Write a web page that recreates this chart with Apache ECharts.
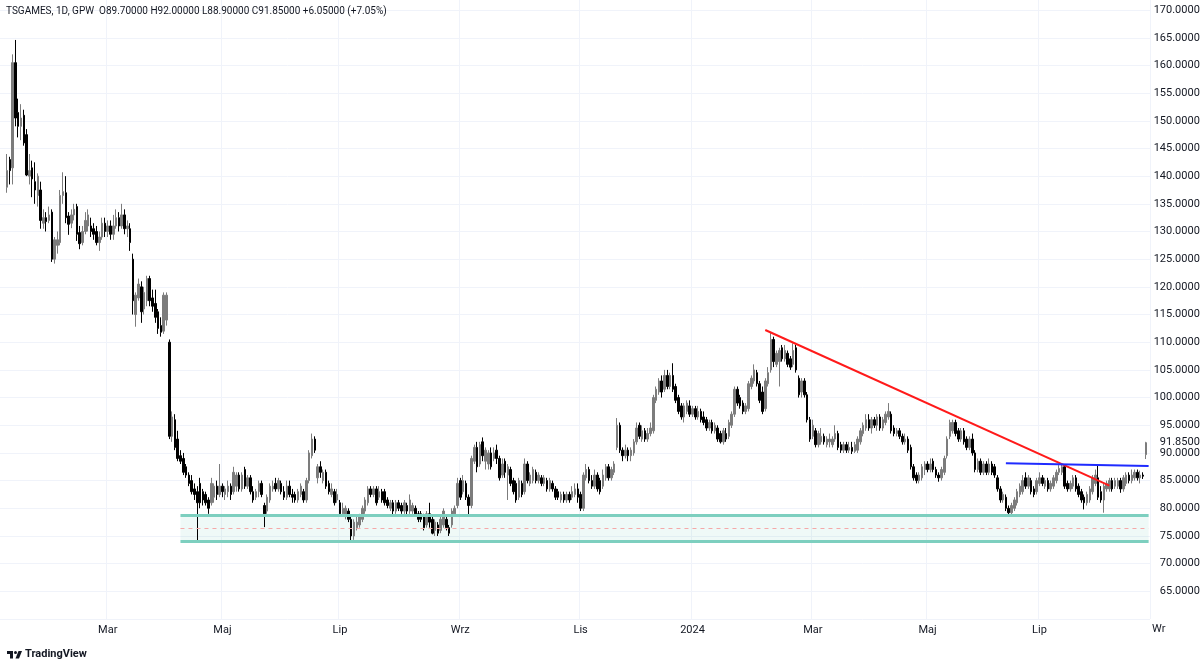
<!DOCTYPE html>
<html>
<head>
<meta charset="utf-8">
<script src="https://cdn.jsdelivr.net/npm/echarts@6/dist/echarts.min.js"></script>
<style>
  html, body { margin: 0; padding: 0; background: #fff; }
  #chart { width: 1200px; height: 661px; }
</style>
</head>
<body>
<div id="chart"></div>
<script>
const symbolLine = 'TSGAMES, 1D, GPW';
const monthNames = ['Sty', 'Lut', 'Mar', 'Kwi', 'Maj', 'Cze', 'Lip', 'Sie', 'Wrz', 'Paź', 'Lis', 'Gru'];
const cutLabel = 'Wr';           // Wrzesień 2024, cut off by the price scale
const startDate = '2023-01-05';
const dayCount = 411;
const leadEmpty = 2;
const holidays = ['2023-01-06', '2023-04-07', '2023-04-10', '2023-05-01', '2023-05-03', '2023-06-08',
  '2023-08-15', '2023-11-01', '2023-12-25', '2023-12-26', '2024-01-01', '2024-03-29', '2024-04-01',
  '2024-05-01', '2024-05-03', '2024-05-30', '2024-08-15'];

// [open, close, low, high]
const ohlc = [
  [138,141,137,144],[143,141,138.5,143.5],[141.5,160.5,138.5,162],[160.5,150.5,149,164.6],[151.5,149,147,154],
  [149,150.5,146.5,153],[151,146,145.5,152],[147.5,140.2,140,148.5],[140,141,138.5,144],[141.5,139.5,136.2,142.8],
  [139,137.5,135,142.5],[136.5,140,134.5,140.5],[137.5,132,130.5,139],[131.5,132.5,130.5,134],[132.5,131.8,130,133.5],
  [132,133,131.5,134.5],[133.5,125,124.5,134],[125,128.5,124.2,129],[127.5,128.5,126,130],[128,136.5,127.5,137.5],
  [136.5,137.2,135,140.7],[137,132.5,131.5,140],[132.8,131.3,129.4,133.5],[131.5,133,130.6,134],[133,134,132,135],
  [134.5,129.5,128.3,135],[129.8,127.8,126.8,131],[128,130,127.5,131],[130,132,129.5,133.5],[131,133,130,134],
  [131,130,129,132.5],[130.5,129.5,128.5,131.5],[130,128,127.5,131],[128,129,126.5,130],[129,131.5,128.5,132.5],
  [131.5,130,129,132.5],[130,131,129,132],[131,129.5,128.5,132],[129.5,131,128.5,133],[131,132.5,130.5,134],
  [132.5,131,130,133.5],[131,133,130.5,135],[133,130.5,129.5,134],[130.5,131,129,132],[130.5,128,126.5,131.5],
  [125,117.5,115,126],[115,118.5,112.8,119],[118,120.5,117.5,121.5],[120,115.5,113.5,121],[116,119,115,120],
  [117.5,121.5,116.5,122],[121.5,117.5,116.5,122],[118,116.5,115.5,119.5],[117,114.5,113.5,119.5],[115.5,112.5,111.5,116],
  [113,111.8,111,114.5],[112,118.5,111.5,119],[114,118.5,113,119],[110,93,92.5,110.5],[93,96.5,92,97.5],
  [96,91,90.5,97],[92.5,89,88.5,94],[89.5,88.5,88,90.5],[89,86.5,86,90],[87.5,86,85.5,88],
  [86,84.5,84,86.5],[85,83,82.5,86],[83.5,82.5,81.5,84.5],[83,81,74,84],[84.5,81,80,85.5],
  [83,81.5,80.5,83.5],[82.5,81,80.5,83],[81.5,80,79,82],[81,84.5,80.5,85.5],[82,84,81,84.5],
  [84,82.5,81.5,85],[82.5,84,82,88],[84,83,82,84.5],[82.5,83.5,81.5,84],[83,84,82,85],
  [84,82.5,81.5,84.5],[83,86.5,82.5,87.5],[84,86,83,86.5],[86,83.5,83,86.5],[83.5,86,83,86.5],
  [87,84,83.5,87.5],[84,85.5,83.5,86],[85.5,83,82.5,86],[83,81.5,81,84],[82,83,81.5,83.5],
  [83,84.5,82,85],[84.5,82.5,82,85],[80.5,79,76.6,81],[79.5,82,79,82.5],[81.5,84,81,84.5],
  [83.5,84,83,85],[84.5,83.5,83,85.5],[83.5,85,83,85.5],[84.5,83,82.5,85],[83,82,81.5,84],
  [82,84,81.5,85],[84,82.5,82,85],[82.5,82,81,83.5],[82.5,81.5,81,83],[81.5,83,81,83.5],
  [82.5,84,82,84.5],[83,81.5,81,83.5],[81.5,85,81,85.5],[85,90,84.5,90.5],[89.5,92.5,89,93.5],
  [92.5,90.5,90,93],[85.5,87.5,84.5,88],[87.5,86.5,85.5,88.5],[85,86.5,84.5,87],[86.5,84,83.5,87],
  [84.5,83,82.5,85],[82.5,83.5,82,84.5],[83,81,80.5,83.5],[81.5,82.5,81,83.5],[81,79,78.5,81.5],
  [79,80,78.5,81],[78.5,80,78,80.5],[79.5,78,77.5,80],[78,75,74.2,78.5],[75,77.5,74.3,78],
  [76.5,77.5,76,78.5],[77,78.5,76.5,79],[78,80,77.5,80.5],[79.5,81.5,79,82],[81,83.5,80.5,84],
  [83.5,82.5,82,84],[82.5,83.5,82,84],[83.5,81,80.5,84],[82,83,81.5,84],[83,81.5,81,83.5],
  [83,81,80.5,83.5],[81.5,80.5,80,82],[80,81,79.5,81.5],[81,79.5,78.5,81.5],[79.5,81,79,81.5],
  [81,80,79.5,81.5],[80.5,79.5,79,81],[79.5,81,79,81.5],[80.5,79.5,78.5,81],[79.5,81.5,79,82.5],
  [79.5,80.5,79,81],[80,79,78.5,80.5],[79,78,77.5,79.5],[79,78,77.5,79.5],[78.5,76.5,76,79],
  [77,79,76.5,79.5],[79,77.5,76.5,81],[78,75.5,75.3,78.5],[76,77.5,75,78],[77,75.5,75,77.5],
  [76,78,75.5,78.5],[77,79.5,76.5,80],[78,76.5,76,78.5],[76.5,75.5,75,77],[77,79.5,76.5,80],
  [79,80,78.5,80.5],[80.5,84.5,80,85.5],[85,82,81.5,85.5],[83,85,82.5,86],[84.5,82,81.5,85],
  [82,80.5,78.7,82.5],[80.5,89,80,89.5],[88.5,91,88,91.5],[91,87.5,86.5,92],[88,91.5,87.5,92],
  [92,89.5,88.5,92.8],[88.5,90.5,87,91],[88,90,87,90.5],[90,87.5,87,91],[89,90,88.5,91],
  [90.5,89,88,91.5],[89,85.5,85,89.5],[86,88,85.5,89],[88.5,86.5,85.5,89],[86,87.5,81.5,88],
  [87,84.5,84,87.5],[85,83,82.5,85.5],[84.5,81.5,81,85],[82,85,81.5,85.5],[84.5,82.5,82,85],
  [83,88,82.5,89],[88,85,84.5,88.5],[84.5,86,84,86.5],[85,87,84.5,87.5],[86.5,85,84.5,87],
  [85,86,84.5,86.5],[85.5,84.5,84,86],[84.5,85.5,84,86],[85,83.5,83,85.5],[83.5,85,83,85.5],
  [84.5,83.5,83,85],[83.5,82,81.5,84],[83,82,81.5,83.5],[81.5,82.5,81,83],[82.5,81.5,81,83],
  [81.5,82.5,81,83],[82.5,81.5,81,83],[82,83,81.5,84],[82.5,83.5,82,84.5],[83.5,82,81,84.5],
  [82.5,80,79.5,83],[80,86,79.5,86.5],[85.5,87,85,88],[87,85,84.5,87.5],[85,84,83.5,86],
  [84,86,83.5,87],[86,83.5,83,86.5],[85,83,82.5,85.5],[84,86,83.5,87],[85.5,87.5,85,88],
  [87.5,85.5,85,88],[85.5,87,85,87.5],[86.5,88,86,88.5],[91,95,90.5,96.3],[95,90.5,90,95.5],
  [90.5,89.5,88.5,91],[89.5,90.5,89,91.5],[90.5,89.5,88.5,91],[89.5,90.5,88.5,91],[90,92,89.5,92.5],
  [92,94.5,91.5,95.5],[95,93,92.5,95.5],[92.5,94,92,95],[94,92.5,92,94.5],[92.5,93.5,92,94.5],
  [93.5,94.5,93,95.5],[94,100,93.5,100.5],[99.5,101.5,99,102],[101,103,100.5,103.5],[103,101,100,104],
  [101.5,104,101,105],[104,102,101.5,105],[102,104,101.5,104.5],[104,101.5,101,106.2],[102,99.5,99,102.5],
  [100,97.5,97,100.5],[98.5,96.5,96,99],[96.5,98.5,95.5,99],[97.5,99,97,99.5],[98.5,97,96.5,99.5],
  [97,98,96.5,98.5],[98,96.5,96,98.5],[96.5,97.5,96,98.5],[97.5,96,95.5,98],[96.5,95.5,95,97.5],
  [96,94.5,94,96.5],[94.5,95.5,94,96],[95.5,94,93.5,96],[94,95,93.5,95.5],[94.5,92.5,92,95],
  [93.5,92,91.7,94],[92,94,91.5,94.5],[93.5,92.5,92,94.5],[93,95.5,92.5,96],[95,97,94.5,97.5],
  [97,101.5,96.5,102],[101.5,99,98.5,102],[100,98.5,98,100.5],[99,97.5,97,99.5],[97.5,98.5,97,99],
  [98,102.5,97.5,103],[102,103.5,101.5,104],[103,105,102.5,106],[104.5,102.5,102,105],[102.5,99.5,99,103],
  [101,97.5,97,102],[98,103,97.5,103.5],[102.5,104.5,102,105.5],[105,110.5,104.5,111.7],[110.5,106.5,105.5,111],
  [106,108,105.5,108.5],[106.5,108.5,102,109],[109,107,106.5,109.5],[107,108.5,106.5,109.5],[108,106,105.5,108.5],
  [107,105.5,105,107.5],[106,108.5,105.5,109.8],[109,105,104.5,109.5],[103.5,100.5,100,104],[101,103,100,103.5],
  [103,100.5,100,103.5],[100.5,96,95.5,101],[96,92.5,92,96.5],[93,95,92.5,96],[94,91.5,91,94.5],
  [91.5,93.5,91,94],[92,93,91.5,94.5],[93,92,91.5,93.5],[91.5,92.5,91,93],[92,92.5,91,93.5],
  [91.5,92.5,91,93],[92.5,93.5,92,95],[93.5,91,90.5,94],[91.5,90.5,90,92],[90.5,91.5,90,92],
  [91.5,90.5,90,92],[90.5,91,90,92],[91,90.3,89.8,92],[90.3,91.5,90,92],[90.5,92.5,90,93],
  [92,94,91.5,94.5],[93.5,95,93,95.5],[94.5,96,94,97],[96,94.5,94,97],[94.5,96,93.5,96.5],
  [96,95,94.5,96.5],[95,96.5,94,97],[96.5,94.5,94,97],[94.5,96,94,96.5],[95.5,97,95,97.5],
  [96.5,97.5,96,99],[97,94,93.5,97.5],[94.5,93.5,93,95],[93.5,94,93,94.5],[94,93,92.5,94.5],
  [93,92,91.5,93.5],[92,92.5,91.5,93.5],[92.5,90.5,90,93],[91,87.5,87,91.5],[87.5,85.5,85,88],
  [86,85,84.5,86.5],[85,86,84.5,86.5],[85.5,87.5,85,88],[87,88,86,88.5],[88,87,86.5,88.5],
  [87,88,86.5,89],[88.5,87,86.5,89],[87,86,85.5,87.5],[86,85.5,84.8,86.5],[85.5,87,85,87.5],
  [86.5,89,86,89.5],[89.5,92.5,89,93],[93,95.5,92.5,96],[94,95.5,93.5,96],[95.5,93.5,93,96],
  [94,92.5,92,94.5],[92.5,94,92,94.5],[94,92,91.5,94.5],[92.5,91,90.5,93],[91,92.5,90.5,93],
  [92.5,90,89.5,93.5],[90,87,86.5,90.5],[87,88.5,86.5,89],[88.5,86.5,86,89],[86.5,88,86,88.5],
  [88,86.5,86,88.5],[86.5,88,86,89],[88,86.5,86,88.5],[87.5,86,85.5,88],[85.5,83.5,83,86],
  [83.5,81.5,81,84],[81.5,82.5,81,83],[82,80,79.5,82.5],[80,79.2,78.8,80.5],[79.2,80.5,78.8,81],
  [80,81.5,79.5,82],[81,83,80.5,83.5],[82.5,84,82,84.5],[83,85,82.5,86],[85.5,84,83.5,86.5],
  [84,85.5,83.5,86],[85,83,82.5,85.5],[83.5,82.5,82,84],[83,85,82.5,85.5],[84.5,85.5,84,86.5],
  [85.5,84.5,84,86],[84,85,83.5,85.5],[85,83.5,83,85.5],[83.5,84.5,83,85],[84,85.5,83.5,86],
  [85,86.5,84.5,87],[86.5,87.2,86,87.8],[86.5,87.5,86,88],[87.5,84,83.5,88],[84.5,83.5,83,85],
  [83.5,84.5,83,85],[84,85.5,83.5,86],[85.5,83.5,83,86],[84,82.5,82,84.5],[83,81.5,81,83.5],
  [82,81,79.8,82.5],[81,82.5,80.5,83],[81.5,83.5,81,84],[83,85.5,82.5,86],[84.5,86,84,87],
  [85.5,82,81.5,87.8],[83,81.5,81,84],[81.5,84,79.2,84.5],[83.5,84.5,83,85],[83.5,85,83,85.5],
  [85,83.5,83,85.5],[84,85,83.5,85.5],[84,85,83.5,85.5],[85,83.5,82.8,85.5],[83.5,85.5,83,86],
  [84.5,86,84,86.5],[86,85,84.5,86.5],[85,86,84.5,87],[85.5,86.5,85,87],[86.5,85.5,85,87],
  [85.5,86,84.5,86.8],[86,85.8,85.3,86.5],[89.7,91.85,88.9,92]
];

const priceScale = { min: 60, max: 172, step: 5, first: 65, last: 170 };
const zone = { from: 64, top: 78.7, mid: 76.4, bottom: 74.0 };
const redTrend = [[273, 112.2], [396, 84.1]];
const blueLevel = [[359, 88.15], [410, 87.65]];

// trading days
const dates = [];
const cur = new Date(startDate + 'T00:00:00Z');
while (dates.length < dayCount) {
  const wd = cur.getUTCDay();
  const s = cur.toISOString().slice(0, 10);
  if (wd !== 0 && wd !== 6 && !holidays.includes(s)) dates.push(s);
  cur.setUTCDate(cur.getUTCDate() + 1);
}
const seriesData = dates.map((_, i) => ohlc[i - leadEmpty] || '-');

const isMark = (i) => {
  if (i <= 0) return false;
  const m = +dates[i].slice(5, 7);
  return dates[i].slice(5, 7) !== dates[i - 1].slice(5, 7) && m % 2 === 1;
};

const last = ohlc[ohlc.length - 1];
const prevClose = ohlc[ohlc.length - 2][1];
const chg = last[1] - prevClose;
const header = `${symbolLine}  O${last[0].toFixed(5)} H${last[3].toFixed(5)} L${last[2].toFixed(5)} ` +
  `C${last[1].toFixed(5)} +${chg.toFixed(5)} (+${(chg / prevClose * 100).toFixed(2)}%)`;

const font = 'Roboto, "Noto Sans", sans-serif';
const ink = '#131722';
const lastIdx = dayCount - 1;

// TradingView mark, 0.5 scale
const lx = 6, ly = 648, s = 0.5;
const pt = (x, y) => [lx + x * s, ly + y * s];

const chart = echarts.init(document.getElementById('chart'));
chart.setOption({
  animation: false,
  backgroundColor: '#ffffff',
  textStyle: { fontFamily: font },
  title: {
    text: header, left: 6, top: 6, padding: 0,
    textStyle: { fontSize: 10, fontWeight: 'normal', color: ink, fontFamily: font }
  },
  grid: { left: 0, right: 50, top: -1, height: 620, outerBoundsMode: 'none', containLabel: false },
  xAxis: {
    type: 'category',
    data: dates,
    boundaryGap: true,
    axisLine: { show: false },
    axisTick: { show: false },
    axisLabel: {
      interval: (i) => isMark(i),
      formatter: (v) => {
        const m = +v.slice(5, 7);
        return m === 1 ? v.slice(0, 4) : monthNames[m - 1];
      },
      color: ink, fontSize: 11, margin: 6, fontFamily: font
    },
    splitLine: { show: true, interval: (i) => isMark(i), lineStyle: { color: '#f0f3fa' } }
  },
  yAxis: [{
    type: 'value', position: 'right',
    min: priceScale.min, max: priceScale.max, interval: priceScale.step,
    axisLine: { show: false }, axisTick: { show: false },
    axisLabel: {
      color: ink, fontSize: 11, margin: 56, align: 'right', fontFamily: font,
      formatter: (v) => (v >= priceScale.first && v <= priceScale.last) ? v.toFixed(5) : ''
    },
    splitLine: { lineStyle: { color: '#f0f3fa' } }
  }, {
    type: 'value', position: 'right',
    min: priceScale.min, max: priceScale.max,
    axisLine: { show: false }, axisTick: { show: false }, splitLine: { show: false },
    axisLabel: {
      customValues: [last[1]], color: ink, fontSize: 11, margin: 56, align: 'right', fontFamily: font,
      formatter: (v) => v.toFixed(5)
    }
  }],
  series: [{
    type: 'candlestick',
    data: seriesData,
    barWidth: 2,
    itemStyle: {
      color: '#7c7c7c', color0: '#000000',
      borderColor: '#7c7c7c', borderColor0: '#000000', borderWidth: 1
    },
    markArea: {
      silent: true,
      itemStyle: { color: 'rgba(120, 205, 190, 0.12)' },
      data: [[{ coord: [dates[zone.from], zone.top] }, { coord: [dates[lastIdx], zone.bottom] }]]
    },
    markLine: {
      silent: true,
      symbol: ['none', 'none'],
      label: { show: false },
      data: [
        [{ coord: [dates[zone.from], zone.top], lineStyle: { color: '#7dcfbf', width: 3, type: 'solid' } },
         { coord: [dates[lastIdx], zone.top] }],
        [{ coord: [dates[zone.from], zone.bottom], lineStyle: { color: '#7dcfbf', width: 3, type: 'solid' } },
         { coord: [dates[lastIdx], zone.bottom] }],
        [{ coord: [dates[zone.from], zone.mid], lineStyle: { color: '#f5a9a9', width: 1, type: [4, 4] } },
         { coord: [dates[lastIdx], zone.mid] }],
        [{ coord: [dates[redTrend[0][0]], redTrend[0][1]], lineStyle: { color: '#ff1a1a', width: 2, type: 'solid' } },
         { coord: [dates[redTrend[1][0]], redTrend[1][1]] }],
        [{ coord: [dates[blueLevel[0][0]], blueLevel[0][1]], lineStyle: { color: '#1f2bff', width: 2, type: 'solid' } },
         { coord: [dates[blueLevel[1][0]], blueLevel[1][1]] }]
      ]
    }
  }],
  graphic: [{
    type: 'text', x: 1152, y: 624,
    style: { text: cutLabel, fill: ink, fontSize: 11, fontFamily: font }
  }, {
    type: 'polygon',
    shape: { points: [pt(14, 6), pt(2, 6), pt(2, 12), pt(8, 12), pt(8, 21), pt(14, 21)] },
    style: { fill: ink }
  }, {
    type: 'polygon',
    shape: { points: [pt(26, 21), pt(19, 21), pt(25, 6), pt(32, 6)] },
    style: { fill: ink }
  }, {
    type: 'circle',
    shape: { cx: pt(19, 9)[0], cy: pt(19, 9)[1], r: 3 * s },
    style: { fill: ink }
  }, {
    type: 'text', x: 25, y: 649,
    style: { text: 'TradingView', fill: ink, fontSize: 11, fontWeight: 'bold', fontFamily: font }
  }]
});
</script>
</body>
</html>
